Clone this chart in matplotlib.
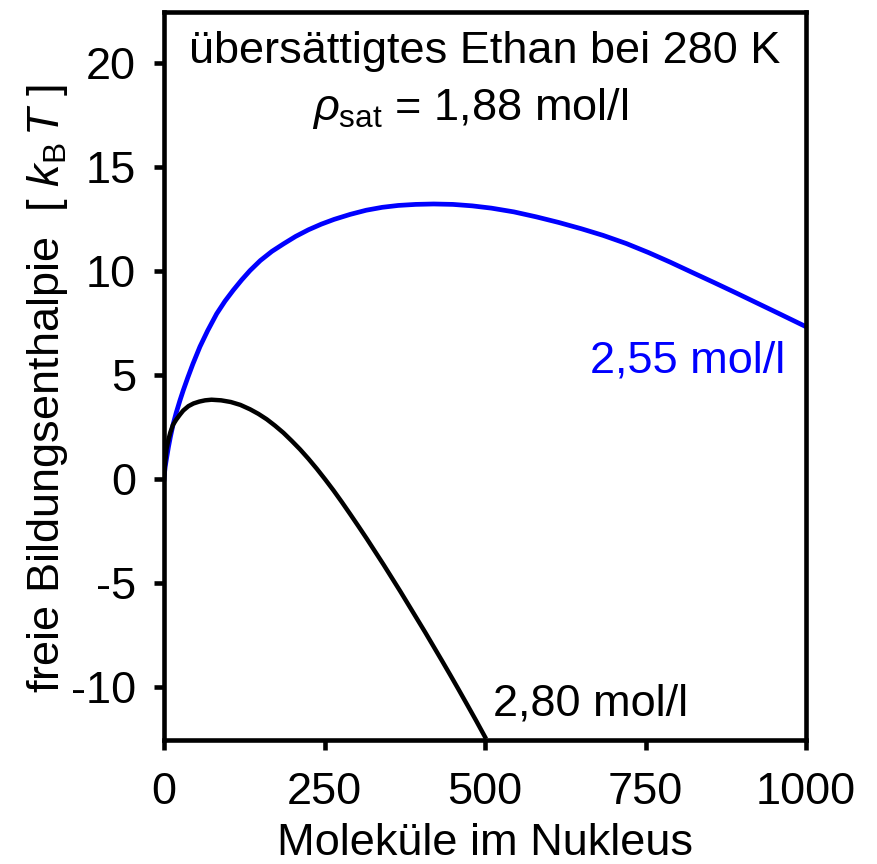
import matplotlib
matplotlib.use('Agg')
import matplotlib.pyplot as plt

plt.rcParams['font.family'] = ['Liberation Sans', 'DejaVu Sans']
plt.rcParams['mathtext.fontset'] = 'custom'
plt.rcParams['mathtext.rm'] = 'Liberation Sans'
plt.rcParams['mathtext.it'] = 'Liberation Sans:italic'
plt.rcParams['axes.unicode_minus'] = False

n_255 = [0, 1, 2, 4, 7, 10, 14, 19, 25, 30,
         37, 45, 56, 68, 82, 95, 108, 121, 134, 150,
         168, 186, 205, 225, 245, 265, 290, 315, 340, 365,
         392, 420, 450, 480, 510, 545, 580, 615, 650, 684,
         720, 755, 788, 822, 857, 892, 927, 962, 1000]
g_255 = [0, 0.35, 0.62, 1.0, 1.55, 2.03, 2.6, 3.18, 3.79, 4.26,
         4.87, 5.53, 6.36, 7.13, 7.94, 8.55, 9.08, 9.57, 10.02, 10.5,
         10.94, 11.3, 11.66, 11.98, 12.25, 12.48, 12.72, 12.92, 13.06, 13.15,
         13.2, 13.22, 13.2, 13.13, 13.02, 12.84, 12.6, 12.33, 12.03, 11.71,
         11.32, 10.88, 10.43, 9.94, 9.44, 8.93, 8.41, 7.89, 7.32]

n_280 = [0, 1, 2, 4, 7, 10, 14, 19, 25, 30,
         38, 46, 55, 64, 74, 89, 104, 119, 134, 147,
         160, 173, 186, 199, 212, 225, 238, 251, 264, 277,
         290, 303, 316, 329, 342, 355, 368, 381, 394, 407,
         420, 433, 446, 459, 472, 486, 500]
g_280 = [0, 0.5, 0.85, 1.45, 1.9, 2.25, 2.6, 2.85, 3.1, 3.29,
         3.5, 3.63, 3.72, 3.78, 3.81, 3.78, 3.7, 3.56, 3.35, 3.13,
         2.87, 2.56, 2.22, 1.83, 1.42, 0.97, 0.49, -0.02, -0.55, -1.11,
         -1.69, -2.28, -2.88, -3.5, -4.12, -4.76, -5.4, -6.06, -6.72, -7.38,
         -8.06, -8.74, -9.43, -10.13, -10.84, -11.61, -12.4]

x_ticks = [0, 250, 500, 750, 1000]
y_ticks = [-10, -5, 0, 5, 10, 15, 20]

fs = 32.5
lw = 3.3

fig = plt.figure(figsize=(8.77, 8.64), dpi=100)
ax = fig.add_axes([164 / 877, 1 - 740 / 864, 642 / 877, 728 / 864])

ax.plot(n_255, g_255, color='#0000ff', lw=3.4, solid_joinstyle='round')
ax.plot(n_280, g_280, color='black', lw=3.2, solid_joinstyle='round')

ax.set_xlim(0, 1000)
ax.set_ylim(-12.55, 22.45)
ax.set_xticks(x_ticks)
ax.set_yticks(y_ticks)
ax.tick_params(direction='out', length=7, width=lw, labelsize=fs, top=False, right=False)
ax.tick_params(axis='y', pad=13)
ax.tick_params(axis='x', pad=16)
for sp in ax.spines.values():
    sp.set_linewidth(lw)

ax.set_xlabel('Moleküle im Nukleus', fontsize=fs)
ax.xaxis.set_label_coords(0.5, -0.114)
ax.set_ylabel(r'freie Bildungsenthalpie  [ $k_\mathrm{B}\,T$ ]', fontsize=fs, va='center')
ax.yaxis.set_label_coords(-0.181, 0.483)

ax.text(0.5, 0.930, 'übersättigtes Ethan bei 280 K', transform=ax.transAxes,
        ha='center', va='baseline', fontsize=fs)
ax.text(0.477, 0.852, r'$\rho_\mathrm{sat}$ = 1,88 mol/l', transform=ax.transAxes,
        ha='center', va='baseline', fontsize=fs)

ax.text(967, 5.1, '2,55 mol/l', color='#0000ff', ha='right', va='baseline', fontsize=fs)
ax.text(512, -11.37, '2,80 mol/l', color='black', ha='left', va='baseline', fontsize=fs)

fig.savefig('out.png', dpi=100)
